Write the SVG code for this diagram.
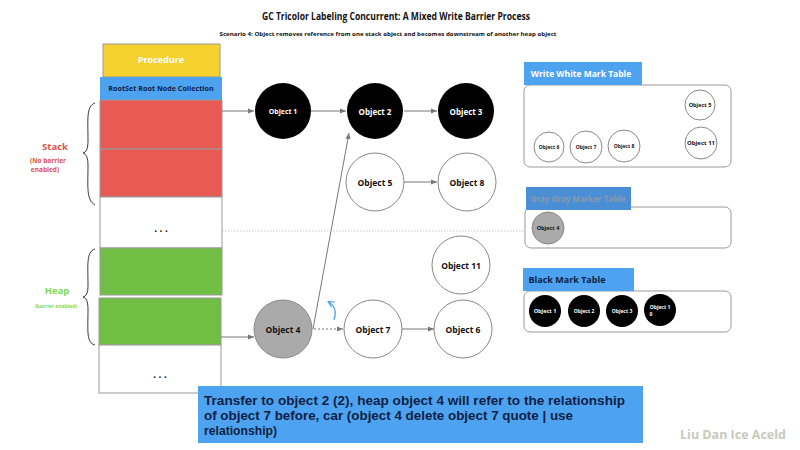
<svg xmlns="http://www.w3.org/2000/svg" width="800" height="450" viewBox="0 0 800 450">
<defs>
<marker id="ah" markerWidth="8" markerHeight="8" refX="7" refY="4" orient="auto" markerUnits="userSpaceOnUse"><path d="M1,1.5 L7,4 L1,6.5 Z" fill="#777"/></marker>
<marker id="ahb" markerWidth="8" markerHeight="8" refX="6" refY="4" orient="auto" markerUnits="userSpaceOnUse"><path d="M1,1 L7,4 L1,7" fill="none" stroke="#4BA0E0" stroke-width="1.2"/></marker>
</defs>
<style>
text{font-family:"Open Sans","Noto Sans","Liberation Sans",sans-serif;font-weight:bold;text-anchor:middle;dominant-baseline:central}
.blk{fill:#000}
.wht{fill:#fff;stroke:#888;stroke-width:1}
.gry{fill:#aaa;stroke:#888;stroke-width:1}
.tw{fill:#fff;font-size:8px}
.tb{fill:#111;font-size:8.5px}
.sw{fill:#fff;font-size:5.5px}
.sb{fill:#111;font-size:5.5px}
.cell{stroke:#999;stroke-width:1}
.hdr{fill:#4DA3F0}
.tbl{fill:#fff;stroke:#999;stroke-width:1}
.ln{stroke:#777;stroke-width:1;fill:none}
.note{font-family:"Liberation Sans",Arial,sans-serif;font-size:13px;fill:#0d1f44;text-anchor:start}
</style>
<rect width="800" height="450" fill="#fff"/>
<text x="396" y="16" style="font-size:10.5px;fill:#111" textLength="268" lengthAdjust="spacingAndGlyphs">GC Tricolor Labeling Concurrent: A Mixed Write Barrier Process</text>
<text x="388" y="34" style="font-size:6px;fill:#111" textLength="337" lengthAdjust="spacingAndGlyphs">Scenario 4: Object removes reference from one stack object and becomes downstream of another heap object</text>

<g id="stack-column">
<rect x="103" y="44" width="117" height="33" fill="#F5D22E" class="cell"/>
<text x="161" y="59" style="font-size:9px;fill:#fff">Procedure</text>
<rect x="100" y="77" width="122" height="23" fill="#4DA3F0"/>
<text x="161" y="88" style="font-size:7.2px;fill:#0d1f44">RootSet Root Node Collection</text>
<rect x="100" y="100" width="122" height="49" fill="#E85B55" class="cell"/>
<rect x="100" y="149" width="122" height="48" fill="#E85B55" class="cell"/>
<rect x="100" y="197" width="122" height="51" fill="#fff" class="cell"/>
<text x="161" y="228" style="font-size:10px;fill:#111">. . .</text>
<rect x="100" y="248" width="122" height="47" fill="#70BF44" class="cell"/>
<rect x="99" y="298" width="122" height="47" fill="#70BF44" class="cell"/>
<rect x="99" y="345" width="122" height="48" fill="#fff" class="cell"/>
<text x="160" y="374" style="font-size:10px;fill:#111">. . .</text>
</g>

<g id="stack-label">
<path d="M95,103 C86,106 88,120 88,140 C88,150 86,152 83,153 C86,154 88,157 88,166 C88,186 86,200 95,205" fill="none" stroke="#222" stroke-width="0.9"/>
<text x="55" y="146" style="font-size:9.5px;fill:#E0504A">Stack</text>
<text x="48" y="160" style="font-size:6.5px;fill:#E0504A">(No barrier</text>
<text x="45" y="169" style="font-size:6.5px;fill:#E0504A">enabled)</text>
</g>
<g id="heap-label">
<path d="M95,249 C86,252 88,265 88,285 C88,294 86,296 83,297 C86,298 88,300 88,310 C88,330 86,343 95,345" fill="none" stroke="#222" stroke-width="0.9"/>
<text x="57" y="290" style="font-size:9.5px;fill:#7ED957">Heap</text>
<text x="56" y="306" style="font-size:5px;fill:#7ED957">(barrier enabled)</text>
</g>

<g id="connectors">
<line x1="222" y1="111" x2="254" y2="111" class="ln" marker-end="url(#ah)"/>
<line x1="311" y1="111" x2="346" y2="111" class="ln" marker-end="url(#ah)"/>
<line x1="404" y1="111" x2="437" y2="111" class="ln" marker-end="url(#ah)"/>
<line x1="404" y1="182" x2="437" y2="182" class="ln" marker-end="url(#ah)"/>
<line x1="221" y1="337" x2="254" y2="337" class="ln" marker-end="url(#ah)"/>
<line x1="313" y1="329" x2="349" y2="133" class="ln" marker-end="url(#ah)"/>
<line x1="314" y1="329" x2="343" y2="329" class="ln" stroke-dasharray="2,2" marker-end="url(#ah)"/>
<line x1="402" y1="329" x2="434" y2="329" class="ln" marker-end="url(#ah)"/>
<line x1="222" y1="231" x2="532" y2="231" stroke="#bbb" stroke-width="0.8" stroke-dasharray="1.5,1.5"/>
<path d="M334,320 Q338,308 329,302" fill="none" stroke="#4BA0E0" stroke-width="1.2" marker-end="url(#ahb)"/>
</g>

<g id="obj1"><circle cx="283" cy="111" r="28" class="blk"/><text x="283" y="111" class="tw" style="font-size:7px">Object 1</text></g>
<g id="obj2"><circle cx="375" cy="111" r="28" class="blk"/><text x="375" y="111" class="tw">Object 2</text></g>
<g id="obj3"><circle cx="466" cy="111" r="28" class="blk"/><text x="466" y="111" class="tw">Object 3</text></g>
<g id="obj5"><circle cx="375" cy="182" r="29" class="wht"/><text x="375" y="182" class="tb">Object 5</text></g>
<g id="obj8"><circle cx="467" cy="182" r="29" class="wht"/><text x="467" y="182" class="tb">Object 8</text></g>
<g id="obj11"><circle cx="461" cy="265" r="29" class="wht"/><text x="461" y="265" class="tb">Object 11</text></g>
<g id="obj4"><circle cx="283" cy="329" r="29" class="gry"/><text x="283" y="329" class="tb">Object 4</text></g>
<g id="obj7"><circle cx="373" cy="329" r="29" class="wht"/><text x="373" y="329" class="tb">Object 7</text></g>
<g id="obj6"><circle cx="463" cy="329" r="29" class="wht"/><text x="463" y="329" class="tb">Object 6</text></g>

<g id="white-table">
<rect x="524" y="85" width="207" height="82" rx="6" class="tbl"/>
<rect x="524" y="62" width="118" height="23" class="hdr"/>
<text x="581" y="73" style="font-size:8.5px;fill:#fff">Write White Mark Table</text>
<circle cx="700" cy="105" r="15" class="wht"/><text x="700" y="105" class="sb">Object 5</text>
<circle cx="701" cy="143" r="16" class="wht"/><text x="701" y="143" class="sb" style="font-size:6px">Object 11</text>
<circle cx="549" cy="147" r="15" class="wht"/><text x="549" y="147" class="sb" style="font-size:5px">Object 6</text>
<circle cx="586" cy="147" r="16" class="wht"/><text x="586" y="147" class="sb" style="font-size:5px">Object 7</text>
<circle cx="624" cy="146" r="16" class="wht"/><text x="624" y="146" class="sb" style="font-size:5px">Object 8</text>
</g>

<g id="gray-table">
<rect x="525" y="207" width="206" height="41" rx="6" class="tbl"/>
<rect x="526" y="187" width="105" height="23" fill="#4A8FD6"/>
<text x="578" y="198" style="font-size:8px;fill:#8a98aa">Gray Gray Marker Table</text>
<circle cx="548" cy="228" r="16" class="gry"/><text x="548" y="228" class="sb">Object 4</text>
</g>

<g id="black-table">
<rect x="524" y="291" width="207" height="41" rx="6" class="tbl"/>
<rect x="523" y="268" width="111" height="23" class="hdr"/>
<text x="567" y="279" style="font-size:9px;fill:#0d1f44">Black Mark Table</text>
<circle cx="545" cy="311" r="16" class="blk"/><text x="545" y="311" class="sw">Object 1</text>
<circle cx="584" cy="311" r="16" class="blk"/><text x="584" y="311" class="sw" style="font-size:5px">Object 2</text>
<circle cx="622" cy="311" r="16" class="blk"/><text x="622" y="311" class="sw" style="font-size:5px">Object 3</text>
<circle cx="660" cy="310" r="16" class="blk"/><text x="660" y="307" class="sw" style="font-size:5px">Object 1</text><text x="651" y="314" class="sw" style="font-size:5px">0</text>
</g>

<g id="note">
<rect x="198" y="386" width="445" height="57" fill="#4DA3F0"/>
<text x="204" y="400" class="note" textLength="421" lengthAdjust="spacingAndGlyphs">Transfer to object 2 (2), heap object 4 will refer to the relationship</text>
<text x="204" y="415" class="note" textLength="369" lengthAdjust="spacingAndGlyphs">of object 7 before, car (object 4 delete object 7 quote | use</text>
<text x="204" y="430" class="note" textLength="73" lengthAdjust="spacingAndGlyphs">relationship)</text>
</g>

<text x="733" y="434" style="font-size:12.5px;fill:#C5CABC">Liu Dan Ice Aceld</text>
</svg>
